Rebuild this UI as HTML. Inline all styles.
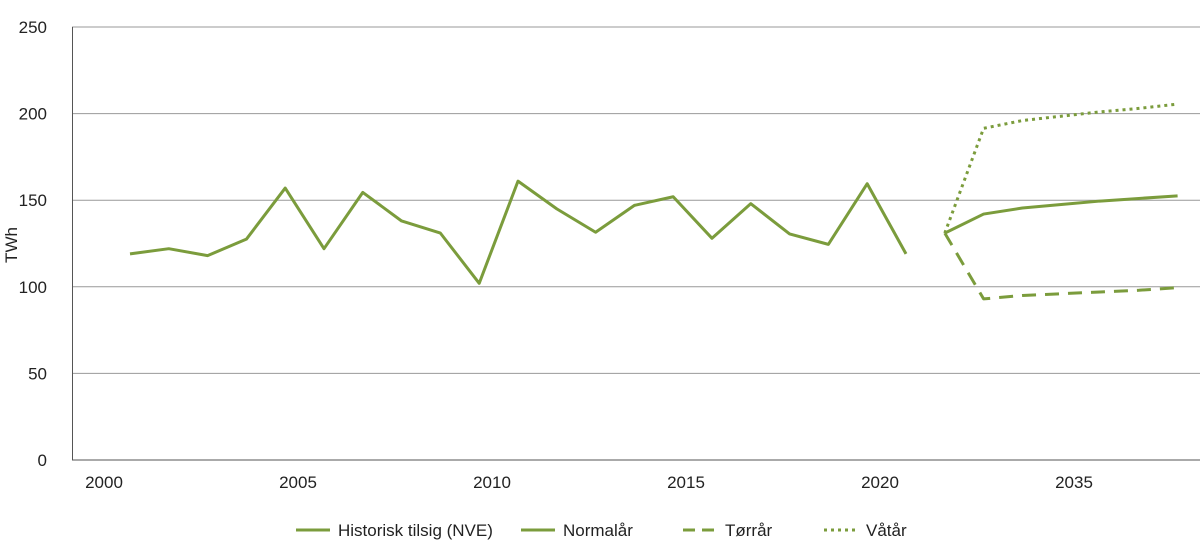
<!DOCTYPE html>
<html><head><meta charset="utf-8"><style>
body{margin:0;background:#fff;}
svg{display:block;font-family:"Liberation Sans",sans-serif;}
</style></head><body>
<svg id="chart" width="1200" height="557" viewBox="0 0 1200 557"></svg>
<script>
const yTicks=[0,50,100,150,200,250];
const xTickLabels=["2000","2005","2010","2015","2020","2035"];
const xTickIdx=[-0.67,4.33,9.33,14.33,19.33,24.33];
const historical=[119,122,118,127.5,157,122,154.5,138,131,102,161,145,131.5,147,152,128,148,130.5,124.5,159.5,119];
const normal=[131,142,145.5,147.5,149.5,151,152.5];
const dry=[131,93,95,96,97,98,99.5];
const wet=[131,191.5,196,198.5,201,203,205.5];
const projStart=21;
const NS="http://www.w3.org/2000/svg";
const svg=document.getElementById('chart');
const x=i=>130+38.8*i;
const y=v=>460-v*(433/250);
const C="#7b9c3c";
function el(t,a,p){const e=document.createElementNS(NS,t);for(const k in a)e.setAttribute(k,a[k]);(p||svg).appendChild(e);return e;}
yTicks.forEach(v=>{
 const g=el('line',{x1:72,x2:1200,y1:y(v),y2:y(v),stroke:v===0?'#555':'#999','stroke-width':1});
 
 
 const t=el('text',{x:47,y:y(v)+6,'text-anchor':'end','font-size':17,fill:'#222'});
 t.textContent=v;
 
 
});
const ax=el('line',{x1:72.5,x2:72.5,y1:y(250),y2:y(0),stroke:'#555'});


xTickLabels.forEach((l,k)=>{
 const t=el('text',{x:x(xTickIdx[k]),y:488,'text-anchor':'middle','font-size':17,fill:'#222'});
 t.textContent=l;
 
 
});
const yt=el('text',{transform:'translate(17,245) rotate(-90)','text-anchor':'middle','font-size':17,fill:'#222'});
yt.textContent='TWh';


function line(vals,off,dash,name){
 const p=el('polyline',{points:vals.map((v,i)=>x(i+off)+','+y(v)).join(' '),fill:'none',stroke:C,'stroke-width':3,'stroke-dasharray':dash||'none','stroke-linejoin':'round'});
 
 
}
line(historical,0,null,'historical-line');
line(dry,projStart,'14 9','dry-year-line');
line(wet,projStart,'3 4','wet-year-line');
line(normal,projStart,null,'normal-year-line');
const leg=[["Historisk tilsig (NVE)",296,null],["Normalår",521,null],["Tørrår",683,'12 7'],["Våtår",824,'3 4']];
leg.forEach(([l,lx,d])=>{
 const g=el('g',{});
 
 
 el('line',{x1:lx,x2:lx+34,y1:530,y2:530,stroke:C,'stroke-width':3,'stroke-dasharray':d||'none'},g);
 const t=el('text',{x:lx+42,y:536,'font-size':17,fill:'#222'},g);
 t.textContent=l;
});
</script>
</body></html>
